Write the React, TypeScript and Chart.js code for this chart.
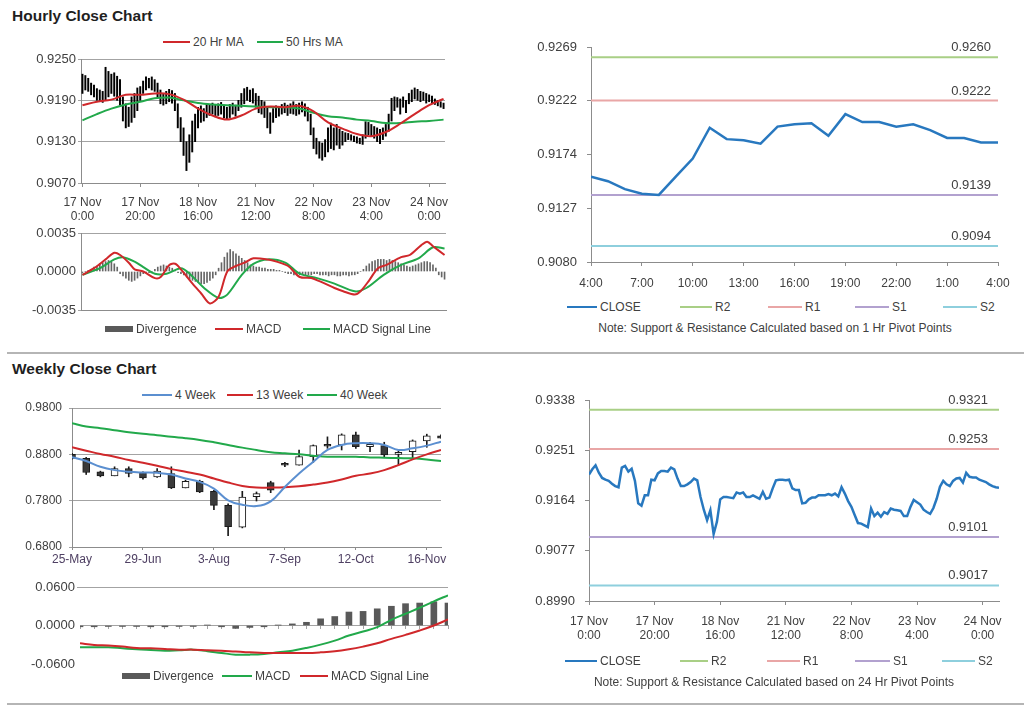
import React, { useEffect, useRef } from 'react';
import { Chart, registerables } from 'chart.js';

Chart.register(...registerables);

const FONT = "'Liberation Sans', Arial, Helvetica, sans-serif";
Chart.defaults.font.family = FONT;
Chart.defaults.color = '#404040';

// ---------------- Hourly candle chart data ----------------
const hTickPos = [0, 20, 40, 60, 80, 100, 120];
const hTickLabels = [
  ['17 Nov', '0:00'], ['17 Nov', '20:00'], ['18 Nov', '16:00'], ['21 Nov', '12:00'],
  ['22 Nov', '8:00'], ['23 Nov', '4:00'], ['24 Nov', '0:00'],
];
const hYTicks = [0.907, 0.913, 0.919, 0.925];
const hHigh = [
  0.9228, 0.9226, 0.9222, 0.9215, 0.9212, 0.9207, 0.9205, 0.9203, 0.9238, 0.9232,
  0.9228, 0.9230, 0.9225, 0.9220, 0.9195, 0.9185, 0.9180, 0.9195, 0.9200, 0.9208,
  0.9210, 0.9218, 0.9224, 0.9222, 0.9224, 0.9220, 0.9215, 0.9205, 0.9200, 0.9203,
  0.9206, 0.9204, 0.9200, 0.9185, 0.9165, 0.9150, 0.9130, 0.9140, 0.9160, 0.9170,
  0.9180, 0.9182, 0.9178, 0.9185, 0.9183, 0.9186, 0.9184, 0.9185, 0.9187, 0.9183,
  0.9180, 0.9184, 0.9186, 0.9183, 0.9190, 0.9200, 0.9207, 0.9209, 0.9205, 0.9207,
  0.9200, 0.9196, 0.9190, 0.9188, 0.9180, 0.9172, 0.9178, 0.9182, 0.9180, 0.9184,
  0.9186, 0.9183, 0.9185, 0.9188, 0.9184, 0.9186, 0.9188, 0.9185, 0.9180, 0.9170,
  0.9150, 0.9135, 0.9130, 0.9128, 0.9133, 0.9150, 0.9157, 0.9150, 0.9155, 0.9148,
  0.9145, 0.9143, 0.9142, 0.9140, 0.9138, 0.9137, 0.9135, 0.9140, 0.9159, 0.9158,
  0.9155, 0.9152, 0.9150, 0.9148, 0.9150, 0.9155, 0.9170, 0.9193, 0.9195, 0.9194,
  0.9192, 0.9195, 0.9190, 0.9200, 0.9205, 0.9208, 0.9206, 0.9203, 0.9202, 0.9200,
  0.9198, 0.9196, 0.9192, 0.9190, 0.9188, 0.9186,
];
const hLow = [
  0.9200, 0.9205, 0.9203, 0.9198, 0.9195, 0.9190, 0.9188, 0.9187, 0.9190, 0.9195,
  0.9200, 0.9196, 0.9190, 0.9183, 0.9160, 0.9150, 0.9152, 0.9158, 0.9165, 0.9175,
  0.9190, 0.9200, 0.9205, 0.9208, 0.9205, 0.9203, 0.9195, 0.9185, 0.9183, 0.9185,
  0.9188, 0.9186, 0.9175, 0.9150, 0.9130, 0.9110, 0.9088, 0.9100, 0.9115, 0.9130,
  0.9150, 0.9158, 0.9160, 0.9165, 0.9168, 0.9170, 0.9166, 0.9168, 0.9170, 0.9165,
  0.9163, 0.9165, 0.9170, 0.9167, 0.9175, 0.9180, 0.9185, 0.9190, 0.9188, 0.9186,
  0.9180, 0.9172, 0.9170, 0.9165, 0.9150, 0.9142, 0.9158, 0.9165, 0.9167, 0.9170,
  0.9172, 0.9168, 0.9171, 0.9170, 0.9168, 0.9170, 0.9173, 0.9167, 0.9160, 0.9140,
  0.9120, 0.9112, 0.9106, 0.9103, 0.9108, 0.9115, 0.9120, 0.9118, 0.9125, 0.9120,
  0.9125, 0.9130, 0.9133, 0.9132, 0.9130, 0.9128, 0.9127, 0.9126, 0.9135, 0.9140,
  0.9138, 0.9135, 0.9130, 0.9127, 0.9133, 0.9138, 0.9145, 0.9160, 0.9175, 0.9180,
  0.9170, 0.9180, 0.9172, 0.9185, 0.9188, 0.9192, 0.9190, 0.9188, 0.9190, 0.9186,
  0.9188, 0.9186, 0.9184, 0.9182, 0.9180, 0.9178,
];
// [hour index, value]
const hMa20 = [
  [0, 0.9183], [5, 0.9188], [10, 0.9191], [15, 0.9198], [20, 0.9198], [25, 0.9200],
  [30, 0.9199], [35, 0.9191], [40, 0.9178], [45, 0.9168], [50, 0.9162], [55, 0.9168],
  [60, 0.9178], [65, 0.9181], [70, 0.9180], [75, 0.9182], [80, 0.9174], [85, 0.9158],
  [90, 0.9149], [95, 0.9141], [100, 0.9138], [105, 0.9144], [110, 0.9156], [115, 0.9170],
  [120, 0.9183], [125, 0.9192],
];
const hMa50 = [
  [0, 0.9161], [5, 0.9170], [10, 0.9178], [15, 0.9184], [20, 0.9188], [25, 0.9193],
  [30, 0.9194], [35, 0.9190], [40, 0.9186], [45, 0.9184], [50, 0.9183], [55, 0.9182],
  [60, 0.9181], [65, 0.9180], [70, 0.9180], [75, 0.9178], [80, 0.9172], [85, 0.9167],
  [90, 0.9165], [95, 0.9162], [100, 0.9160], [105, 0.9157], [110, 0.9157], [115, 0.9159],
  [120, 0.9160], [125, 0.9162],
];

// ---------------- Hourly MACD ----------------
const hMacdTicks = [-0.0035, 0, 0.0035];
const hDiv = [
  -0.0001, 0, 0.0001, 0.0002, 0.0004, 0.0005, 0.0007, 0.0008, 0.0009, 0.0010,
  0.0009, 0.0007, 0.0004, -0.0002, -0.0004, -0.0006, -0.0008, -0.0009, -0.0008, -0.0006,
  -0.0004, -0.0002, -0.0001, -0.0001, 0, 0.0002, 0.0004, 0.0005, 0.0006, 0.0005,
  0.0004, 0.0003, 0.0001, -0.0001, -0.0002, -0.0003, -0.0005, -0.0007, -0.0008, -0.0009,
  -0.0010, -0.0011, -0.0011, -0.0010, -0.0008, -0.0006, -0.0003, 0.0003, 0.0008, 0.0013,
  0.0017, 0.0020, 0.0018, 0.0016, 0.0014, 0.0012, 0.0010, 0.0008, 0.0006, 0.0005,
  0.0004, 0.0004, 0.0003, 0.0003, 0.0002, 0.0002, 0.0002, 0.0001, 0.0001, 0,
  -0.0001, -0.0002, -0.0002, -0.0003, -0.0003, -0.0003, -0.0002, -0.0003, -0.0003, -0.0003,
  -0.0002, -0.0002, -0.0003, -0.0003, -0.0003, -0.0004, -0.0003, -0.0003, -0.0004, -0.0004,
  -0.0003, -0.0003, -0.0004, -0.0003, -0.0003, -0.0002, 0, 0.0002, 0.0005, 0.0007,
  0.0009, 0.0010, 0.0011, 0.0011, 0.0011, 0.0010, 0.0011, 0.0010, 0.0009, 0.0008,
  0.0007, 0.0006, 0.0005, 0.0004, 0.0005, 0.0006, 0.0007, 0.0008, 0.0009, 0.0009,
  0.0008, 0.0006, 0.0003, -0.0003, -0.0005, -0.0007,
];
const hMacd = [
  [0, -0.0003], [4, 0.0003], [8, 0.0011], [11, 0.0017], [13, 0.0015], [16, 0.0008],
  [18, 0.0002], [21, 0.0000], [25, -0.0006], [27, -0.0005], [30, 0.0006], [32, 0.0007],
  [34, 0.0002], [38, -0.0011], [41, -0.0020], [44, -0.0029], [47, -0.0023], [50, 0.0000],
  [53, 0.0005], [56, 0.0008], [59, 0.0012], [64, 0.0011], [67, 0.0009], [71, 0.0005],
  [75, -0.0005], [79, -0.0006], [82, -0.0009], [87, -0.0015], [90, -0.0018], [94, -0.0021],
  [96, -0.0018], [99, -0.0008], [102, 0.0003], [105, 0.0006], [110, 0.0013], [113, 0.0015],
  [117, 0.0024], [119, 0.0027], [121, 0.0023], [125, 0.0015],
];
const hSignal = [
  [0, -0.0003], [6, 0.0003], [11, 0.0011], [14, 0.0013], [18, 0.0009], [21, 0.0004],
  [25, -0.0002], [29, -0.0002], [34, 0.0003], [37, -0.0002], [42, -0.0015], [47, -0.0024],
  [50, -0.0021], [55, -0.0003], [59, 0.0007], [64, 0.0011], [70, 0.0008], [75, -0.0002],
  [81, -0.0006], [87, -0.0011], [94, -0.0018], [98, -0.0015], [104, -0.0003], [110, 0.0006],
  [116, 0.0012], [121, 0.0022], [125, 0.0021],
];

// ---------------- Hourly pivot chart ----------------
const p1TickPos = [0, 3, 6, 9, 12, 15, 18, 21, 24];
const p1TickLabels = ['4:00', '7:00', '10:00', '13:00', '16:00', '19:00', '22:00', '1:00', '4:00'];
const p1YLabels = ['0.9080', '0.9127', '0.9174', '0.9222', '0.9269'];
const p1YMin = 0.908;
const p1YMax = 0.9269;
const p1Close = [
  0.9155, 0.9151, 0.9144, 0.9140, 0.9139, 0.9155, 0.9171, 0.9198, 0.9188, 0.9187,
  0.9184, 0.9199, 0.9201, 0.9202, 0.9191, 0.9210, 0.9203, 0.9203, 0.9199, 0.9201,
  0.9196, 0.9189, 0.9189, 0.9185, 0.9185,
];
const p1Levels = [0.9260, 0.9222, 0.9139, 0.9094]; // R2, R1, S1, S2

// ---------------- Weekly candle chart ----------------
const wTickPos = [0, 5, 10, 15, 20, 25];
const wTickLabels = ['25-May', '29-Jun', '3-Aug', '7-Sep', '12-Oct', '16-Nov'];
const wYTicks = [0.68, 0.78, 0.88, 0.98];
const wOpen = [
  0.8800, 0.8713, 0.8423, 0.8336, 0.8495, 0.8408, 0.8314, 0.8386, 0.8075, 0.8220,
  0.8002, 0.7698, 0.7226, 0.7884, 0.8191, 0.8604, 0.8568, 0.8749, 0.9017, 0.9003,
  0.9220, 0.8966, 0.8988, 0.8800, 0.8858, 0.9090, 0.9198,
];
const wClose = [
  0.8713, 0.8408, 0.8336, 0.8495, 0.8386, 0.8292, 0.8437, 0.8075, 0.8220, 0.7988,
  0.7698, 0.7241, 0.7879, 0.7951, 0.8024, 0.8568, 0.8749, 0.8988, 0.8974, 0.9220,
  0.8966, 0.9017, 0.8785, 0.8843, 0.9090, 0.9198, 0.9148,
];
const wHigh = [
  0.8821, 0.8734, 0.8437, 0.8531, 0.8531, 0.8423, 0.8495, 0.8531, 0.8242, 0.8242,
  0.8024, 0.7734, 0.8002, 0.7988, 0.8220, 0.8626, 0.8894, 0.9003, 0.9177, 0.9242,
  0.9278, 0.9061, 0.9061, 0.8872, 0.9111, 0.9235, 0.9220,
];
const wLow = [
  0.8698, 0.8365, 0.8314, 0.8336, 0.8314, 0.8263, 0.8300, 0.8060, 0.8075, 0.7973,
  0.7604, 0.7045, 0.7212, 0.7792, 0.7973, 0.8532, 0.8568, 0.8626, 0.8930, 0.8894,
  0.8930, 0.8858, 0.8727, 0.8568, 0.8713, 0.8952, 0.9148,
];
const w4 = [
  0.8740, 0.8655, 0.8531, 0.8459, 0.8423, 0.8408, 0.8401, 0.8365, 0.8278, 0.8205,
  0.8060, 0.7806, 0.7712, 0.7683, 0.7785, 0.8096, 0.8386, 0.8640, 0.8894, 0.9003,
  0.9039, 0.9039, 0.9003, 0.8894, 0.8930, 0.8988, 0.9075,
];
const w13 = [
  0.8952, 0.8879, 0.8807, 0.8749, 0.8676, 0.8618, 0.8553, 0.8481, 0.8423, 0.8365,
  0.8278, 0.8191, 0.8118, 0.8082, 0.8082, 0.8089, 0.8111, 0.8147, 0.8191, 0.8256,
  0.8336, 0.8386, 0.8459, 0.8568, 0.8691, 0.8800, 0.8894,
];
const w40 = [
  0.9474, 0.9401, 0.9365, 0.9322, 0.9278, 0.9242, 0.9213, 0.9177, 0.9148, 0.9111,
  0.9061, 0.9003, 0.8945, 0.8894, 0.8843, 0.8821, 0.8800, 0.8771, 0.8749, 0.8749,
  0.8749, 0.8734, 0.8727, 0.8720, 0.8713, 0.8691, 0.8655,
];

// ---------------- Weekly MACD ----------------
const wMacdTicks = [-0.06, 0, 0.06];
const wDiv = [
  -0.0020, -0.0020, -0.0015, -0.0015, -0.0015, -0.0020, -0.0020, -0.0015, -0.0015, 0.0005,
  -0.0020, -0.0045, -0.0030, -0.0020, 0.0005, 0.0025, 0.0050, 0.0104, 0.0140, 0.0210,
  0.0220, 0.0260, 0.0300, 0.0340, 0.0350, 0.0370, 0.0350,
];
const wMacd = [
  -0.0339, -0.0339, -0.0339, -0.0355, -0.0371, -0.0382, -0.0392, -0.0385, -0.0376, -0.0400,
  -0.0428, -0.0454, -0.0454, -0.0444, -0.0418, -0.0392, -0.0350, -0.0298, -0.0235, -0.0157,
  -0.0094, -0.0026, 0.0089, 0.0183, 0.0277, 0.0376, 0.0470,
];
const wSignal = [
  -0.0277, -0.0303, -0.0313, -0.0329, -0.0350, -0.0355, -0.0365, -0.0376, -0.0376, -0.0386,
  -0.0392, -0.0407, -0.0418, -0.0428, -0.0428, -0.0428, -0.0428, -0.0418, -0.0402, -0.0371,
  -0.0329, -0.0277, -0.0209, -0.0146, -0.0078, 0.0000, 0.0094,
];

// ---------------- 24h pivot chart ----------------
const p2TickPos = [0, 20, 40, 60, 80, 100, 120];
const p2TickLabels = hTickLabels;
const p2YLabels = ['0.8990', '0.9077', '0.9164', '0.9251', '0.9338'];
const p2YMin = 0.899;
const p2YMax = 0.9338;
const p2Close = [
  0.9209, 0.9218, 0.9225, 0.9212, 0.9203, 0.9200, 0.9198, 0.9193, 0.9189, 0.9187,
  0.9221, 0.9224, 0.9214, 0.9219, 0.9198, 0.9159, 0.9155, 0.9173, 0.9173, 0.9200,
  0.9199, 0.9211, 0.9215, 0.9215, 0.9214, 0.9221, 0.9218, 0.9202, 0.9189, 0.9189,
  0.9192, 0.9196, 0.9202, 0.9199, 0.9170, 0.9148, 0.9130, 0.9147, 0.9106, 0.9127,
  0.9166, 0.9170, 0.9170, 0.9169, 0.9168, 0.9178, 0.9176, 0.9178, 0.9170, 0.9170,
  0.9173, 0.9170, 0.9167, 0.9179, 0.9167, 0.9169, 0.9185, 0.9199, 0.9200, 0.9200,
  0.9199, 0.9200, 0.9185, 0.9182, 0.9182, 0.9159, 0.9160, 0.9166, 0.9169, 0.9169,
  0.9173, 0.9173, 0.9173, 0.9175, 0.9173, 0.9176, 0.9171, 0.9187, 0.9176, 0.9163,
  0.9153, 0.9139, 0.9125, 0.9124, 0.9121, 0.9118, 0.9150, 0.9137, 0.9143, 0.9136,
  0.9144, 0.9141, 0.9150, 0.9148, 0.9147, 0.9146, 0.9137, 0.9137, 0.9153, 0.9165,
  0.9161, 0.9157, 0.9148, 0.9144, 0.9141, 0.9151, 0.9167, 0.9188, 0.9198, 0.9192,
  0.9189, 0.9198, 0.9202, 0.9203, 0.9195, 0.9212, 0.9205, 0.9204, 0.9204, 0.9200,
  0.9198, 0.9196, 0.9192, 0.9189, 0.9187, 0.9186,
];
const p2Levels = [0.9321, 0.9253, 0.9101, 0.9017]; // R2, R1, S1, S2

const levelNames = ['R2', 'R1', 'S1', 'S2'];

// ---------------- styles ----------------
const TXT = '#404040';
const GRID = '#a3a3a3';
const AXIS = '#8c8c8c';
const RED = '#d0282b';
const GREEN = '#22a94b';
const BLUE4 = '#5b8fd0';
const CLOSE_BLUE = '#2878bf';
const LEVEL_COLORS = ['#a9cf86', '#e9a6a6', '#b2a1cf', '#8ecfdd'];
const DIV_COLOR = '#595959';

const setTicks = (values: number[]) => (scale: any) => {
  scale.ticks = values.map((v) => ({ value: v }));
};
// pin axis sizes and remove Chart.js' automatic label-overflow padding
const fixW = (w: number) => (scale: any) => {
  scale.width = w;
  scale.paddingTop = 0;
  scale.paddingBottom = 0;
};
const fixH = (h: number) => (scale: any) => {
  scale.height = h;
  scale.paddingLeft = 0;
  scale.paddingRight = 0;
};
const evenTicks = (labels: string[], min: number, max: number) =>
  labels.map((_, i) => min + (i * (max - min)) / (labels.length - 1));
const pairs = (arr: number[][]) => arr.map(([x, y]) => ({ x, y }));
const idxPts = (arr: number[]) => arr.map((y, x) => ({ x, y }));

const basePlugins = { legend: { display: false }, tooltip: { enabled: false } };

const levelLabelPlugin = {
  id: 'levelLabels',
  afterDatasetsDraw(chart: any, _args: any, opts: any) {
    const { ctx, chartArea } = chart;
    ctx.save();
    ctx.font = `13px ${FONT}`;
    ctx.fillStyle = TXT;
    ctx.textAlign = 'right';
    ctx.textBaseline = 'bottom';
    chart.data.datasets.forEach((ds: any, i: number) => {
      if (!ds.levelLabel) return;
      const meta = chart.getDatasetMeta(i);
      const pt = meta.data[meta.data.length - 1];
      const v = ds.data[ds.data.length - 1].y;
      ctx.fillText(v.toFixed(4), chartArea.right - opts.inset, pt.y - opts.gap);
    });
    ctx.restore();
  },
};

// ---------------- chart configs ----------------
function hourlyConfig() {
  return {
    type: 'bar',
    data: {
      datasets: [
        { type: 'line', data: pairs(hMa20), borderColor: RED, borderWidth: 2, pointRadius: 0, tension: 0.35, order: 0 },
        { type: 'line', data: pairs(hMa50), borderColor: GREEN, borderWidth: 2, pointRadius: 0, tension: 0.35, order: 1 },
        {
          type: 'bar', data: hHigh.map((h, i) => ({ x: i, y: [hLow[i], h] })),
          backgroundColor: '#000000', barThickness: 1.3, grouped: false, order: 2,
        },
      ],
    },
    options: {
      responsive: false, animation: false,
      layout: { padding: { top: 9, right: 15, bottom: 0, left: 0 } },
      plugins: basePlugins,
      scales: {
        x: {
          type: 'linear', min: -0.5, max: 125.5, offset: false,
          afterBuildTicks: setTicks(hTickPos), afterFit: fixH(47),
          grid: { offset: false, drawOnChartArea: false, drawTicks: true, tickLength: 4, color: AXIS },
          border: { color: AXIS },
          ticks: { autoSkip: false, maxRotation: 0, minRotation: 0, padding: 8, color: TXT, font: { size: 12 }, callback: (_v: any, i: number) => hTickLabels[i] },
        },
        y: {
          min: 0.907, max: 0.925, beginAtZero: false,
          afterBuildTicks: setTicks(hYTicks), afterFit: fixW(61),
          grid: { color: GRID, drawTicks: true, tickLength: 3 },
          border: { color: AXIS },
          ticks: { padding: 2, color: TXT, font: { size: 13 }, callback: (v: number) => v.toFixed(4) },
        },
      },
    },
  };
}

function hourlyMacdConfig() {
  return {
    type: 'bar',
    data: {
      datasets: [
        { type: 'line', data: pairs(hMacd), borderColor: RED, borderWidth: 2, pointRadius: 0, tension: 0.3, order: 0 },
        { type: 'line', data: pairs(hSignal), borderColor: GREEN, borderWidth: 2, pointRadius: 0, tension: 0.3, order: 1 },
        { type: 'bar', data: idxPts(hDiv), backgroundColor: '#666666', barThickness: 1, grouped: false, order: 2 },
      ],
    },
    options: {
      responsive: false, animation: false,
      layout: { padding: { top: 8, right: 15, bottom: 9, left: 0 } },
      plugins: basePlugins,
      scales: {
        x: {
          type: 'linear', min: -0.5, max: 125.5, offset: false,
          afterFit: fixH(0),
          grid: { display: false, offset: false },
          border: { color: AXIS },
          ticks: { display: false },
        },
        y: {
          min: -0.0035, max: 0.0035, beginAtZero: false,
          afterBuildTicks: setTicks(hMacdTicks), afterFit: fixW(61),
          grid: { color: (c: any) => (c.tick && c.tick.value === 0 ? 'rgba(0,0,0,0)' : GRID), drawTicks: true, tickLength: 3 },
          border: { color: AXIS },
          ticks: { padding: 2, color: TXT, font: { size: 13 }, callback: (v: number) => v.toFixed(4) },
        },
      },
    },
  };
}

function pivotConfig(close: number[], levels: number[], tickPos: number[], tickLabels: any[], yLabels: string[], yMin: number, yMax: number, xPad: number, xH: number, yW: number, pad: any, inset: number, gap: number) {
  const xMax = close.length - 1;
  return {
    type: 'line',
    data: {
      datasets: [
        { data: idxPts(close), borderColor: CLOSE_BLUE, borderWidth: 2.5, pointRadius: 0, tension: 0, order: 0 },
        ...levels.map((v, i) => ({
          data: [{ x: 0, y: v }, { x: xMax, y: v }], borderColor: LEVEL_COLORS[i], borderWidth: 2,
          pointRadius: 0, order: 1 + i, levelLabel: levelNames[i],
        })),
      ],
    },
    plugins: [levelLabelPlugin],
    options: {
      responsive: false, animation: false,
      layout: { padding: pad },
      plugins: { ...basePlugins, levelLabels: { inset, gap } },
      scales: {
        x: {
          type: 'linear', min: 0, max: xMax, offset: false,
          afterBuildTicks: setTicks(tickPos), afterFit: fixH(xH),
          grid: { offset: false, drawOnChartArea: false, drawTicks: true, tickLength: 4, color: AXIS },
          border: { color: AXIS },
          ticks: { autoSkip: false, maxRotation: 0, minRotation: 0, padding: xPad, color: TXT, font: { size: 12 }, callback: (_v: any, i: number) => tickLabels[i] },
        },
        y: {
          min: yMin, max: yMax, beginAtZero: false,
          afterBuildTicks: setTicks(evenTicks(yLabels, yMin, yMax)), afterFit: fixW(yW),
          grid: { drawOnChartArea: false, drawTicks: true, tickLength: 4, color: AXIS },
          border: { color: AXIS },
          ticks: { padding: 10, color: TXT, font: { size: 13 }, callback: (_v: any, i: number) => yLabels[i] },
        },
      },
    },
  };
}

function weeklyConfig() {
  return {
    type: 'bar',
    data: {
      datasets: [
        { type: 'line', data: idxPts(w4), borderColor: BLUE4, borderWidth: 2, pointRadius: 0, tension: 0.4, order: 0 },
        { type: 'line', data: idxPts(w13), borderColor: RED, borderWidth: 2, pointRadius: 0, tension: 0.4, order: 1 },
        { type: 'line', data: idxPts(w40), borderColor: GREEN, borderWidth: 2, pointRadius: 0, tension: 0.4, order: 2 },
        {
          type: 'bar', data: wOpen.map((o, i) => ({ x: i, y: [o, wClose[i]] })),
          backgroundColor: (c: any) => (wClose[c.dataIndex] < wOpen[c.dataIndex] ? '#3a3a3a' : '#ffffff'),
          borderColor: '#1a1a1a', borderWidth: 1, borderSkipped: false, barThickness: 7, grouped: false, order: 3,
        },
        {
          type: 'bar', data: wHigh.map((h, i) => ({ x: i, y: [wLow[i], h] })),
          backgroundColor: '#1a1a1a', barThickness: 1, grouped: false, order: 4,
        },
      ],
    },
    options: {
      responsive: false, animation: false,
      layout: { padding: { top: 10, right: 14, bottom: 0, left: 0 } },
      plugins: basePlugins,
      scales: {
        x: {
          type: 'linear', min: 0, max: 26, offset: false,
          afterBuildTicks: setTicks(wTickPos), afterFit: fixH(31),
          grid: { offset: false, drawOnChartArea: false, drawTicks: true, tickLength: 3, color: AXIS },
          border: { color: AXIS },
          ticks: { autoSkip: false, maxRotation: 0, minRotation: 0, padding: 2, color: '#4f4063', font: { size: 12 }, callback: (_v: any, i: number) => wTickLabels[i] },
        },
        y: {
          min: 0.68, max: 0.98, beginAtZero: false,
          afterBuildTicks: setTicks(wYTicks), afterFit: fixW(62),
          grid: { color: GRID, drawTicks: true, tickLength: 3 },
          border: { color: AXIS },
          ticks: { padding: 7, color: TXT, font: { size: 12 }, callback: (v: number) => v.toFixed(4) },
        },
      },
    },
  };
}

function weeklyMacdConfig() {
  return {
    type: 'bar',
    data: {
      datasets: [
        { type: 'line', data: idxPts(wMacd), borderColor: GREEN, borderWidth: 2, pointRadius: 0, tension: 0.4, order: 1 },
        { type: 'line', data: idxPts(wSignal), borderColor: RED, borderWidth: 2, pointRadius: 0, tension: 0.4, order: 0 },
        { type: 'bar', data: idxPts(wDiv), backgroundColor: DIV_COLOR, barThickness: 6, grouped: false, order: 2 },
      ],
    },
    options: {
      responsive: false, animation: false,
      layout: { padding: { top: 10, right: 15, bottom: 9, left: 0 } },
      plugins: basePlugins,
      scales: {
        x: {
          type: 'linear', min: 0, max: 26, offset: false, position: { y: 0 },
          afterFit: fixH(0),
          grid: { offset: false, drawOnChartArea: false, drawTicks: true, tickLength: 3, color: GRID },
          border: { color: GRID },
          ticks: { display: false, stepSize: 1 },
        },
        y: {
          min: -0.06, max: 0.06, beginAtZero: false,
          afterBuildTicks: setTicks(wMacdTicks), afterFit: fixW(65),
          grid: { color: (c: any) => (c.tick && c.tick.value > 0 ? GRID : 'rgba(0,0,0,0)'), drawTicks: true, tickLength: 3 },
          border: { display: false },
          ticks: { padding: 2, color: TXT, font: { size: 13 }, callback: (v: number) => v.toFixed(4) },
        },
      },
    },
  };
}

// ---------------- components ----------------
type Box = { left: number; top: number; width: number; height: number };

function ChartCanvas({ box, make }: { box: Box; make: () => any }) {
  const ref = useRef<HTMLCanvasElement | null>(null);
  useEffect(() => {
    if (!ref.current) return;
    const chart = new Chart(ref.current, make());
    return () => chart.destroy();
  }, []);
  return (
    <canvas
      ref={ref}
      width={box.width}
      height={box.height}
      style={{ position: 'absolute', left: box.left, top: box.top, width: box.width, height: box.height }}
    />
  );
}

type LegItem = { x: number; w: number; color: string; label: string; kind?: string; thick?: number };

function Legend({ y, items }: { y: number; items: LegItem[] }) {
  return (
    <>
      {items.map((it, i) => {
        const h = it.kind === 'box' ? 6 : it.thick || 2;
        return (
          <React.Fragment key={i}>
            <div style={{ position: 'absolute', left: it.x, top: y - h / 2, width: it.w, height: h, background: it.color }} />
            <div style={{ position: 'absolute', left: it.x + it.w + 3, top: y - 8, height: 16, lineHeight: '16px', fontSize: 12, color: TXT, whiteSpace: 'nowrap' }}>
              {it.label}
            </div>
          </React.Fragment>
        );
      })}
    </>
  );
}

function Title({ y, text }: { y: number; text: string }) {
  return (
    <div style={{ position: 'absolute', left: 12, top: y - 10, height: 20, lineHeight: '20px', fontSize: 15.5, fontWeight: 'bold', color: '#1f1f1f', whiteSpace: 'nowrap' }}>
      {text}
    </div>
  );
}

function Note({ cx, y, text }: { cx: number; y: number; text: string }) {
  return (
    <div style={{ position: 'absolute', left: cx - 250, width: 500, top: y - 8, height: 16, lineHeight: '16px', fontSize: 12, color: TXT, textAlign: 'center', whiteSpace: 'nowrap' }}>
      {text}
    </div>
  );
}

function Divider({ y }: { y: number }) {
  return <div style={{ position: 'absolute', left: 7, top: y, width: 1017, height: 2, background: '#b5b5b5' }} />;
}

const pivotLegend = (y: number, xs: number[][]) => (
  <Legend
    y={y}
    items={[
      { x: xs[0][0], w: xs[0][1], color: CLOSE_BLUE, label: 'CLOSE', thick: 2 },
      ...levelNames.map((n, i) => ({ x: xs[i + 1][0], w: xs[i + 1][1], color: LEVEL_COLORS[i], label: n, thick: 2 })),
    ]}
  />
);

export default function App() {
  return (
    <div style={{ position: 'absolute', left: 0, top: 0, width: 1024, height: 706, background: '#ffffff', fontFamily: FONT, overflow: 'hidden' }}>
      <Title y={16} text="Hourly Close Chart" />
      <Legend y={42} items={[
        { x: 163, w: 27, color: RED, label: '20 Hr MA' },
        { x: 257, w: 26, color: GREEN, label: '50 Hrs MA' },
      ]} />
      <ChartCanvas box={{ left: 20, top: 50, width: 440, height: 180 }} make={hourlyConfig} />
      <ChartCanvas box={{ left: 20, top: 225, width: 441, height: 94 }} make={hourlyMacdConfig} />
      <Legend y={329} items={[
        { x: 105, w: 28, color: DIV_COLOR, label: 'Divergence', kind: 'box' },
        { x: 215, w: 28, color: RED, label: 'MACD' },
        { x: 303, w: 27, color: GREEN, label: 'MACD Signal Line' },
      ]} />

      <ChartCanvas
        box={{ left: 520, top: 36, width: 500, height: 260 }}
        make={() => pivotConfig(p1Close, p1Levels, p1TickPos, p1TickLabels, p1YLabels, p1YMin, p1YMax, 10, 34, 71, { top: 11, right: 22, bottom: 0, left: 0 }, 7, 3)}
      />
      {pivotLegend(307, [[567, 30], [680, 32], [768, 34], [855, 34], [943, 34]])}
      <Note cx={775} y={328} text="Note: Support & Resistance Calculated based on 1 Hr Pivot Points" />

      <Divider y={352} />

      <Title y={369} text="Weekly Close Chart" />
      <Legend y={395} items={[
        { x: 142, w: 30, color: BLUE4, label: '4 Week' },
        { x: 227, w: 26, color: RED, label: '13 Week' },
        { x: 307, w: 30, color: GREEN, label: '40 Week' },
      ]} />
      <ChartCanvas box={{ left: 10, top: 398, width: 445, height: 180 }} make={weeklyConfig} />
      <ChartCanvas box={{ left: 15, top: 577, width: 448, height: 96 }} make={weeklyMacdConfig} />
      <Legend y={676} items={[
        { x: 122, w: 28, color: DIV_COLOR, label: 'Divergence', kind: 'box' },
        { x: 222, w: 30, color: GREEN, label: 'MACD' },
        { x: 300, w: 28, color: RED, label: 'MACD Signal Line' },
      ]} />

      <ChartCanvas
        box={{ left: 519, top: 390, width: 500, height: 260 }}
        make={() => pivotConfig(p2Close, p2Levels, p2TickPos, p2TickLabels, p2YLabels, p2YMin, p2YMax, 9, 49, 70, { top: 10, right: 20, bottom: 0, left: 0 }, 11, 3)}
      />
      {pivotLegend(661, [[565, 32], [680, 28], [767, 33], [855, 35], [942, 33]])}
      <Note cx={774} y={682} text="Note: Support & Resistance Calculated based on 24 Hr Pivot Points" />

      <Divider y={703} />
    </div>
  );
}
